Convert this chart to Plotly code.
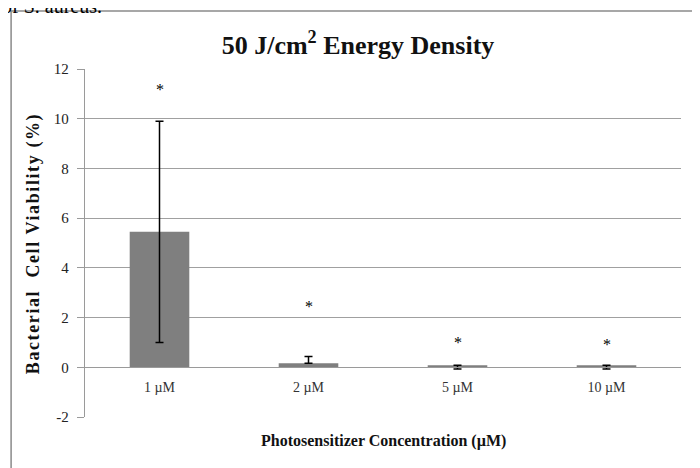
import plotly.graph_objects as go

categories = ["1 µM", "2 µM", "5 µM", "10 µM"]
viability = [5.45, 0.16, 0.08, 0.08]
err_plus = [4.45, 0.27, 0.0, 0.0]
err_minus = [4.45, 0.0, 0.15, 0.15]
star_y = [11.3, 2.55, 1.1, 1.03]
y_ticks = [-2, 0, 2, 4, 6, 8, 10, 12]
y_tick_labels = ["-2", "0", "2", "4", "6", "8", "10", "12"]

y_min, y_max = -2, 12
serif = "Liberation Serif, Times New Roman, serif"

fig = go.Figure()
fig.add_trace(go.Bar(
    x=categories, y=viability,
    marker=dict(color="#7f7f7f", line=dict(width=0)),
    error_y=dict(type="data", symmetric=False, array=err_plus, arrayminus=err_minus,
                 color="black", thickness=1.5, width=4),
    showlegend=False,
))

for c, s in zip(categories, star_y):
    fig.add_annotation(x=c, y=s, xref="x", yref="y", text="*", showarrow=False,
                       font=dict(family=serif, size=16, color="#000"), yshift=-3)

fig.add_annotation(x=0.5, y=-0.069, xref="paper", yref="paper",
                   text="<b>Photosensitizer Concentration (µM)</b>", showarrow=False,
                   font=dict(family=serif, size=16, color="#111"), xanchor="center", yanchor="middle")
fig.add_annotation(x=-0.087, y=0.497, xref="paper", yref="paper", textangle=-90,
                   text="<span style=\"letter-spacing:1.6px\"><b>Bacterial  Cell Viability (%)</b></span>",
                   showarrow=False,
                   font=dict(family=serif, size=18, color="#111"), xanchor="center", yanchor="middle")
fig.add_annotation(x=-0.1426, y=1.18, xref="paper", yref="paper",
                   text="of S. aureus.", showarrow=False,
                   font=dict(family=serif, size=20, color="#000"), xanchor="left", yanchor="middle")

fig.add_shape(type="rect", xref="paper", yref="paper", x0=-0.124, x1=1.1, y0=-0.3, y1=1.167,
              line=dict(color="#8a8a8a", width=1.5), fillcolor="rgba(0,0,0,0)", layer="below")

fig.update_layout(
    width=700, height=468,
    margin=dict(l=77, r=27, t=61, b=59),
    paper_bgcolor="white", plot_bgcolor="white",
    bargap=0.6,
    title=dict(text="<b>50 J/cm<sup>2</sup> Energy Density</b>", x=0.5, xanchor="center",
               y=1 - 37 / 468, yanchor="middle", xref="container", yref="container",
               font=dict(family=serif, size=26, color="#111")),
    xaxis=dict(anchor="free", position=(0 - y_min) / (y_max - y_min),
               showgrid=False, showline=True, linecolor="#9a9a9a", linewidth=1.3,
               ticks="", tickfont=dict(family=serif, size=14, color="#333"),
               ticklabelstandoff=7, zeroline=False),
    yaxis=dict(range=[y_min, y_max], tickvals=y_ticks, ticktext=y_tick_labels,
               showgrid=True, gridcolor="#a0a0a0",
               gridwidth=1.3, zeroline=False, showline=True, linecolor="#9a9a9a", linewidth=1.3,
               ticks="outside", ticklen=7, tickcolor="#9a9a9a", ticklabelstandoff=5,
               tickfont=dict(family=serif, size=15, color="#222")),
)

fig.write_html("out.html")
